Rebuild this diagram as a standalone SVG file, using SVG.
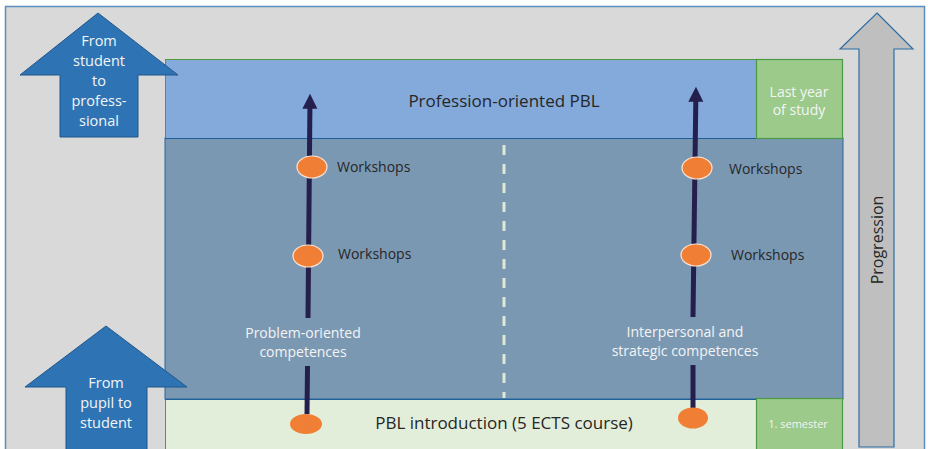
<svg xmlns="http://www.w3.org/2000/svg" width="928" height="449" viewBox="0 0 928 449">
<defs>
<style>
.t{font-family:"Open Sans","Liberation Sans",sans-serif;}
.dark{fill:#262626;}
.white{fill:#f4f4f4;}
.bigarrow{fill:#2e74b5;stroke:#21578b;stroke-width:1;}
.orange{fill:#f07f35;stroke:#fbe5d6;stroke-width:1.2;}
.spine{stroke:#251f4d;stroke-width:5;fill:none;}
</style>
<marker id="ah" viewBox="0 0 10 10" refX="0.5" refY="5" markerWidth="3" markerHeight="3.2" orient="auto" markerUnits="strokeWidth">
<path d="M0,0 L10,5 L0,10 Z" fill="#251f4d"/>
</marker>
</defs>
<rect x="0" y="0" width="928" height="449" fill="#ffffff"/>
<rect id="frame" x="5.5" y="6.5" width="919" height="450" fill="#d9d9d9" stroke="#5b8ec0" stroke-width="1.5"/>

<g id="middle">
<rect x="165" y="138" width="678" height="261" fill="#7b98b3" stroke="#2a64a0" stroke-width="1"/>
<line x1="504" y1="145" x2="504" y2="398" stroke="#dfe8d4" stroke-width="3" stroke-dasharray="10 9"/>
</g>
<g id="top-box">
<rect x="165.5" y="59.5" width="591" height="79" fill="#84aadc" stroke="#4e9a3e" stroke-width="1"/>
<line x1="165" y1="138.5" x2="843" y2="138.5" stroke="#1f5f9a" stroke-width="1.2"/>
<text class="t dark" x="504" y="107" font-size="17" text-anchor="middle">Profession-oriented PBL</text>
</g>
<g id="bottom-box">
<rect x="165.5" y="399.5" width="591" height="55" fill="#e2eeda" stroke="#4e9a3e" stroke-width="1"/>
<line x1="165" y1="399.5" x2="757" y2="399.5" stroke="#1f5f9a" stroke-width="1.2"/>
<text class="t dark" x="504" y="429" font-size="17" text-anchor="middle">PBL introduction (5 ECTS course)</text>
</g>
<g id="last-year">
<rect x="756.5" y="59.5" width="86" height="79" fill="#9bca8a" stroke="#4c9a47" stroke-width="1.2"/>
<text class="t white" font-size="14" text-anchor="middle"><tspan x="799" y="97">Last year</tspan><tspan x="799" y="115">of study</tspan></text>
</g>
<g id="semester">
<rect x="756.5" y="398.5" width="86" height="56" fill="#9bca8a" stroke="#4c9a47" stroke-width="1.2"/>
<text class="t white" x="798" y="428" font-size="11" text-anchor="middle">1. semester</text>
</g>

<g id="arrow-student-professional">
<path class="bigarrow" d="M98,13 L178,75 L138,75 L138,137 L60,137 L60,75 L20,75 Z"/>
<text class="t white" font-size="14.5" text-anchor="middle"><tspan x="99" y="46">From</tspan><tspan x="99" y="66">student</tspan><tspan x="99" y="86">to</tspan><tspan x="99" y="106">profess-</tspan><tspan x="99" y="126">sional</tspan></text>
</g>
<g id="arrow-pupil-student">
<path class="bigarrow" d="M106,326 L187,387 L147,387 L147,460 L66,460 L66,387 L25,387 Z"/>
<text class="t white" font-size="14.5" text-anchor="middle"><tspan x="106" y="388">From</tspan><tspan x="106" y="408">pupil to</tspan><tspan x="106" y="428">student</tspan></text>
</g>
<g id="arrow-progression">
<path d="M877,13 L913,49 L894,49 L894,447 L859,447 L859,49 L840,49 Z" fill="#bfbfbf" stroke="#2e6da4" stroke-width="1.2"/>
<text class="t" x="0" y="0" font-size="16" fill="#262626" text-anchor="middle" transform="translate(883,240) rotate(-90)">Progression</text>
</g>

<g id="connectors">
<line class="spine" x1="308" y1="318" x2="309.9" y2="108" marker-end="url(#ah)"/>
<line class="spine" x1="307" y1="414" x2="307.5" y2="366"/>
<line class="spine" x1="693" y1="317" x2="695.8" y2="101" marker-end="url(#ah)"/>
<line class="spine" x1="693" y1="410" x2="693" y2="365"/>
</g>

<g id="left-track">
<ellipse class="orange" cx="312" cy="167" rx="15" ry="11"/>
<text class="t dark" x="337" y="172" font-size="14">Workshops</text>
<ellipse class="orange" cx="308" cy="256" rx="15" ry="11"/>
<text class="t dark" x="338" y="259" font-size="14">Workshops</text>
<ellipse cx="306" cy="424" rx="16" ry="10" fill="#f07f35"/>
<text class="t white" font-size="14" text-anchor="middle"><tspan x="303" y="338">Problem-oriented</tspan><tspan x="303" y="357">competences</tspan></text>
</g>
<g id="right-track">
<ellipse class="orange" cx="697" cy="168" rx="15" ry="11"/>
<text class="t dark" x="729" y="174" font-size="14">Workshops</text>
<ellipse class="orange" cx="696" cy="255" rx="15" ry="11"/>
<text class="t dark" x="731" y="260" font-size="14">Workshops</text>
<ellipse cx="693" cy="418" rx="15" ry="10.5" fill="#f07f35"/>
<text class="t white" font-size="14" text-anchor="middle"><tspan x="685" y="337">Interpersonal and</tspan><tspan x="685" y="356">strategic competences</tspan></text>
</g>
</svg>
